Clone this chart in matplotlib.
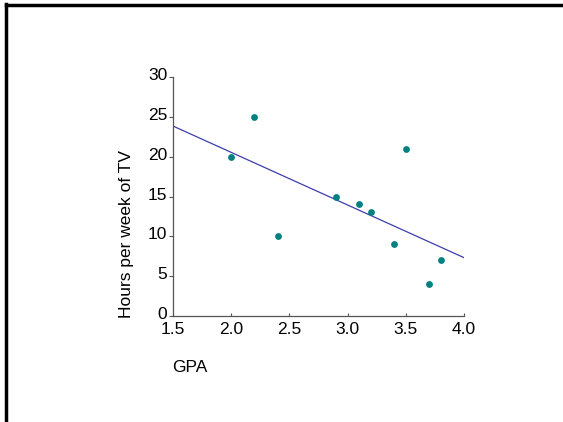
import matplotlib
matplotlib.use("Agg")
import matplotlib.pyplot as plt
import matplotlib.transforms as mtransforms
import numpy as np
from matplotlib.lines import Line2D

plt.rcParams['font.family'] = ['Liberation Sans', 'DejaVu Sans']

gpa = [2.0, 2.2, 2.4, 2.9, 3.1, 3.2, 3.4, 3.5, 3.7, 3.8]
tv_hours = [20, 25, 10, 15, 14, 13, 9, 21, 4, 7]
x_ticks = [1.5, 2.0, 2.5, 3.0, 3.5, 4.0]
y_ticks = [0, 5, 10, 15, 20, 25, 30]

W, H = 563, 422
fig = plt.figure(figsize=(W / 100, H / 100), dpi=100)

# outer frame (top and left edges)
fig.add_artist(Line2D([5.5 / W, 1.0], [1 - 4.5 / H, 1 - 4.5 / H], color='black', lw=2.5,
                      transform=fig.transFigure))
fig.add_artist(Line2D([6 / W, 6 / W], [0.0, 1 - 3.5 / H], color='black', lw=2.5,
                      transform=fig.transFigure))

left, right, top, bottom = 173, 464, 77, 316
ax = fig.add_axes([left / W, 1 - bottom / H, (right - left) / W, (bottom - top) / H])

ax.scatter(gpa, tv_hours, s=24, color='#008080', zorder=3, linewidths=0)

slope, intercept = np.polyfit(gpa, tv_hours, 1)
xl = np.array([1.5, 4.0])
ax.plot(xl, slope * xl + intercept, color='#3d3dad', lw=0.9, zorder=2)

ax.set_xlim(1.5, 4.0)
ax.set_ylim(0, 30)
ax.set_xticks(x_ticks)
ax.set_xticklabels([f"{v:.1f}" for v in x_ticks])
ax.set_yticks(y_ticks)
for s in ['top', 'right']:
    ax.spines[s].set_visible(False)
for s in ['left', 'bottom']:
    ax.spines[s].set_color('#555555')
    ax.spines[s].set_linewidth(0.9)
ax.tick_params(axis='y', direction='out', length=3, width=0.8, color='#555555',
               labelsize=12.5, pad=1)
ax.tick_params(axis='x', direction='in', length=2, width=0.8, color='#555555',
               labelsize=12.5, pad=4)

offset = mtransforms.ScaledTranslation(0, 3 / 100, fig.dpi_scale_trans)
for lab in ax.get_yticklabels():
    lab.set_transform(lab.get_transform() + offset)

fig.text(127 / W, 1 - 234 / H, 'Hours per week of TV', rotation=90, fontsize=12.5,
         ha='center', va='center')
fig.text(172 / W, 1 - 368 / H, 'GPA', fontsize=12.5, ha='left', va='center')

fig.savefig('out.png', dpi=100)
